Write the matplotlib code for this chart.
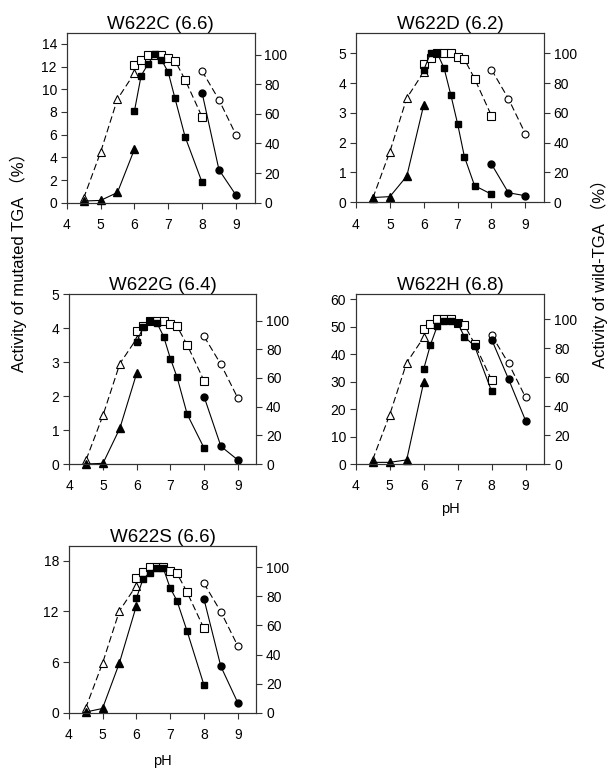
import matplotlib
matplotlib.use('Agg')
import matplotlib.pyplot as plt

plt.rcParams['font.family'] = ['Liberation Sans', 'DejaVu Sans']

# pH values for the three buffer ranges
ph_acid = [4.5, 5.0, 5.5, 6.0]
ph_mid = [6.0, 6.2, 6.4, 6.6, 6.8, 7.0, 7.2, 7.5, 8.0]
ph_base = [8.0, 8.5, 9.0]

# wild-type activity (%), right axis, same in every panel
wt_acid = [3, 34, 70, 87.5]
wt_mid = [93, 96.5, 100, 100, 100, 97.5, 96, 83, 58]
wt_base = [89, 69.5, 46]

# mutated enzymes, left axis
titles = ['W622C (6.6)', 'W622D (6.2)', 'W622G (6.4)', 'W622H (6.8)', 'W622S (6.6)']

c_acid = [0.15, 0.2, 0.9, 4.7]
c_mid = [8.05, 11.2, 12.2, 13.1, 12.6, 11.5, 9.2, 5.8, 1.8]
c_base = [9.7, 2.9, 0.68]

d_acid = [0.16, 0.19, 0.88, 3.27]
d_mid = [4.44, 5.0, 5.0, 4.5, 3.6, 2.63, 1.53, 0.56, 0.27]
d_base = [1.28, 0.32, 0.22]

g_acid = [0.0, 0.02, 1.05, 2.67]
g_mid = [3.59, 4.04, 4.2, 4.15, 3.75, 3.1, 2.55, 1.46, 0.47]
g_base = [1.98, 0.52, 0.12]

h_acid = [0.6, 0.6, 1.5, 29.8]
h_mid = [34.6, 43.5, 50.3, 52.0, 52.3, 51.4, 46.4, 43.0, 26.5]
h_base = [45.4, 30.9, 15.8]

s_acid = [0.08, 0.5, 5.9, 12.65]
s_mid = [13.55, 15.85, 16.6, 17.2, 17.1, 14.8, 13.3, 9.7, 3.3]
s_base = [13.5, 5.5, 1.2]

mutants = [(c_acid, c_mid, c_base), (d_acid, d_mid, d_base), (g_acid, g_mid, g_base),
           (h_acid, h_mid, h_base), (s_acid, s_mid, s_base)]

left_ticks = [[0, 2, 4, 6, 8, 10, 12, 14], [0, 1, 2, 3, 4, 5], [0, 1, 2, 3, 4, 5],
              [0, 10, 20, 30, 40, 50, 60], [0, 6, 12, 18]]
left_top = [15.0, 5.67, 5.0, 62.0, 19.8]
right_top = [115, 113.4, 118.6, 117.5, 114.9]

# axes boxes in pixels: left, right, top, bottom
boxes = [(66.7, 254.5, 32.5, 202.7), (356, 544, 33.3, 202.3),
         (69.3, 256.3, 294, 464), (355.7, 544.3, 294, 464),
         (68.7, 256.3, 545.7, 712.7)]

W, H = 611, 771
fig = plt.figure(figsize=(W / 100, H / 100), dpi=100)

spine_col = '#333333'
dash = (0, (6, 3))

for i in range(5):
    l, r, t, b = boxes[i]
    ax = fig.add_axes([l / W, 1 - b / H, (r - l) / W, (b - t) / H])
    ax2 = ax.twinx()
    ax.set_zorder(ax2.get_zorder() + 1)
    ax.patch.set_visible(False)

    # wild type (open markers, dashed)
    ax2.plot(ph_acid, wt_acid, ls=dash, color='black', lw=0.8, marker='^', ms=6,
             mfc='white', mec='black', mew=0.8, clip_on=False)
    ax2.plot(ph_mid, wt_mid, ls=dash, color='black', lw=0.8, marker='s', ms=5.5,
             mfc='white', mec='black', mew=0.8, clip_on=False)
    ax2.plot(ph_base, wt_base, ls=dash, color='black', lw=0.8, marker='o', ms=5,
             mfc='white', mec='black', mew=0.8, clip_on=False)

    # mutant (filled markers, solid)
    acid, mid, base = mutants[i]
    ax.plot(ph_acid, acid, '-', color='black', lw=0.8, marker='^', ms=6, clip_on=False)
    ax.plot(ph_mid, mid, '-', color='black', lw=0.8, marker='s', ms=4.2, clip_on=False)
    ax.plot(ph_base, base, '-', color='black', lw=0.8, marker='o', ms=5, clip_on=False)

    ax.set_xlim(4, 9.55)
    ax.set_xticks([4, 5, 6, 7, 8, 9])
    ax.set_ylim(0, left_top[i])
    ax.set_yticks(left_ticks[i])
    ax2.set_ylim(0, right_top[i])
    ax2.set_yticks([0, 20, 40, 60, 80, 100])

    for a in (ax, ax2):
        for sp in a.spines.values():
            sp.set_color(spine_col)
            sp.set_linewidth(0.8)
        a.tick_params(direction='out', length=4, width=0.8, color=spine_col,
                      labelsize=10, pad=3)
    ax.tick_params(axis='x', pad=7)
    ax.set_title(titles[i], fontsize=13.5, pad=2)

    if i == 3:
        ax.set_xlabel('pH', fontsize=10.5, labelpad=6)
    if i == 4:
        ax.set_xlabel('pH', fontsize=10.5, labelpad=9)

lab_fam = ['Liberation Sans', 'Noto Sans CJK SC', 'DejaVu Sans']
fig.text(18.5 / W, 1 - 258 / H, 'Activity of mutated TGA \uff08%\uff09', rotation=90,
         ha='center', va='center', fontsize=12, family=lab_fam)
fig.text(599 / W, 1 - 270 / H, 'Activity of wild-TGA \uff08%\uff09', rotation=90,
         ha='center', va='center', fontsize=12, family=lab_fam)

fig.savefig('out.png', dpi=100)
